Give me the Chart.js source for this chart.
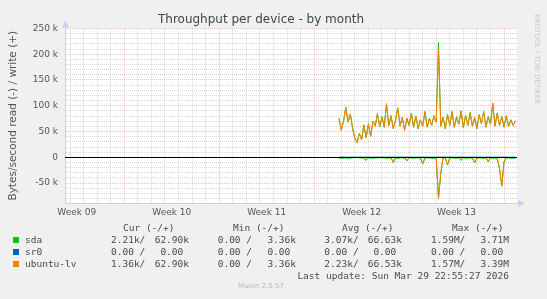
<!DOCTYPE html>
<html>
<head>
<meta charset="utf-8">
<script src="https://cdn.jsdelivr.net/npm/chart.js@4/dist/chart.umd.min.js"></script>
<style>
    html, body { margin: 0; padding: 0; background: #f0f0f0; }
    #wrap { position: relative; width: 547px; height: 299px; overflow: hidden; }
    #graph { position: absolute; left: 0; top: 0; }
    .t { position: absolute; white-space: pre; font: 9.5px 'DejaVu Sans Mono', monospace;
         color: #4a4a4a; height: 12px; line-height: 12px; }
    .sq { position: absolute; width: 6px; height: 6px; }
    #rrdtool { position: absolute; left: 533px; top: 14px; writing-mode: vertical-rl;
               font: 7px 'DejaVu Sans', sans-serif; color: #c8c8c8; }
    #munin { position: absolute; left: 0; width: 522px; top: 282px; text-align: center;
             font: 7px 'DejaVu Sans', sans-serif; color: #b8b8b8; }
</style>
</head>
<body>
<div id="wrap">
    <canvas id="graph" width="547" height="299"></canvas>
    <div id="legend"></div>
    <div id="rrdtool">RRDTOOL / TOBI OETIKER</div>
    <div id="munin">Munin 2.0.57</div>
</div>
<script>
'use strict';

// x is in days from Sun 1 Mar 2026 00:00, samples every 4h (values in k bytes/s)
const firstSample = 15 + 20 / 24;
const sampleStep = 4 / 24;

const ubuntuWrite = [
    75, 52, 70, 96, 68, 84, 56, 36, 28, 46,
    34, 62, 38, 64, 40, 70, 60, 84, 60, 78,
    58, 103, 62, 80, 55, 72, 95, 60, 78, 52,
    75, 62, 85, 58, 80, 55, 72, 60, 88, 58,
    75, 62, 80, 68, 208, 60, 78, 55, 82, 62,
    88, 58, 78, 64, 90, 57, 80, 62, 86, 60,
    76, 55, 82, 65, 88, 58, 78, 64, 104, 60,
    85, 62, 78, 58, 80, 60, 72, 62, 70];
const sdaWrite = [
    76, 53, 70, 97, 69, 84, 57, 37, 29, 46,
    35, 63, 38, 65, 41, 70, 61, 85, 60, 79,
    59, 104, 62, 81, 56, 72, 96, 61, 78, 53,
    76, 62, 86, 59, 80, 56, 73, 60, 89, 59,
    76, 62, 81, 68, 223, 61, 78, 56, 83, 62,
    89, 58, 79, 65, 90, 58, 81, 62, 87, 61,
    77, 56, 83, 65, 89, 59, 79, 64, 105, 61,
    86, 62, 79, 59, 81, 60, 73, 62, 71];
const ubuntuRead = [
    0.3, 0.6, 0.3, 0.3, 0.6, 0.3, 0.3, 0.2, 0.2, 0.3,
    0.3, 0.6, 5, 0.3, 0.3, 0.6, 0.3, 0.3, 0.2, 0.3,
    0.3, 0.6, 0.3, 0.3, 9, 0.3, 0.6, 0.3, 0.3, 0.6,
    6, 0.3, 0.3, 0.6, 0.3, 0.3, 0.6, 12, 0.6, 0.3,
    0.3, 0.6, 0.3, 1, 79, 30, 0.6, 0.3, 14, 0.6,
    0.3, 0.3, 0.6, 0.3, 5, 0.3, 0.6, 0.3, 0.3, 0.6,
    10, 0.6, 0.3, 0.3, 0.6, 0.3, 8, 0.3, 0.6, 0.3,
    1, 20, 55, 8, 0.6, 0.3, 0.6, 0.3, 0.6];
const sdaRead = [
    1.5, 2, 1.5, 1, 2, 1.5, 1, 0.5, 0.5, 1,
    1, 2, 6, 1, 1.5, 2, 1, 1, 0.5, 1,
    1, 2, 1.5, 1, 10, 1.5, 2, 1, 1, 2,
    7, 1, 1.5, 2, 1, 1, 2, 13, 2, 1,
    1, 2, 1.5, 3, 80, 32, 2, 1, 15, 2,
    1, 1.5, 2, 1, 6, 1, 2, 1.5, 1, 2,
    11, 2, 1, 1.5, 2, 1, 9, 1, 2, 1.5,
    3, 22, 56, 9, 2, 1, 2, 1.5, 2];
const sr0Write = [
    0, 0, 0, 0, 0, 0, 0, 0, 0, 0,
    0, 0, 0, 0, 0, 0, 0, 0, 0, 0,
    0, 0, 0, 0, 0, 0, 0, 0, 0, 0,
    0, 0, 0, 0, 0, 0, 0, 0, 0, 0,
    0, 0, 0, 0, 0, 0, 0, 0, 0, 0,
    0, 0, 0, 0, 0, 0, 0, 0, 0, 0,
    0, 0, 0, 0, 0, 0, 0, 0, 0, 0,
    0, 0, 0, 0, 0, 0, 0, 0, 0];
const sr0Read = sr0Write.slice();

const weekLabels = ['Week 09', 'Week 10', 'Week 11', 'Week 12', 'Week 13'];
const weekCentres = [-3.5, 3.5, 10.5, 17.5, 24.5];
const xMin = -4.37, xMax = 28.955;
const yMin = -88600, yMax = 250000;

const legendNames = ['sda', 'sr0', 'ubuntu-lv'];
const legendColours = ['#00cc00', '#0066b3', '#ff8000'];
const legendHeads = ['Cur (-/+)', 'Min (-/+)', 'Avg (-/+)', 'Max (-/+)'];
// [read, write] per device
const legendCur = [['2.21k', '62.90k'], ['0.00 ', '0.00 '], ['1.36k', '62.90k']];
const legendMin = [['0.00 ', '3.36k'], ['0.00 ', '0.00 '], ['0.00 ', '3.36k']];
const legendAvg = [['3.07k', '66.63k'], ['0.00 ', '0.00 '], ['2.23k', '66.53k']];
const legendMax = [['1.59M', '3.71M'], ['0.00 ', '0.00 '], ['1.57M', '3.39M']];
const lastUpdate = 'Last update: Sun Mar 29 22:55:27 2026';


const axisColour = '#c9cff4';
const minorGrid = 'rgba(200,200,200,0.7)';
const majorGrid = 'rgba(240,150,150,0.6)';

const dayTicks = [];
for (let d = Math.ceil(xMin); d <= xMax; d++) {
    dayTicks.push(d);
}
const xTickValues = dayTicks.concat(weekCentres).sort((a, b) => a - b);
const yTickValues = [];
for (let v = -80000; v <= yMax; v += 10000) {
    yTickValues.push(v);
}

function points(vals, sign) {
    return vals.map((v, i) => ({x: firstSample + i * sampleStep, y: sign * v * 1000}));
}

function line(label, colour, data, order) {
    return {label, data, order, borderColor: colour, borderWidth: 1, pointRadius: 0,
            tension: 0, fill: false};
}

const muninFrame = {
    id: 'muninFrame',
    beforeDraw(chart) {
        const {ctx, chartArea: a} = chart;
        ctx.save();
        ctx.fillStyle = '#ffffff';
        ctx.fillRect(a.left, a.top, a.right - a.left, a.bottom - a.top);
        ctx.restore();
    },
    afterDatasetsDraw(chart) {
        const {ctx, chartArea: a, scales: {y}} = chart;
        const zero = Math.round(y.getPixelForValue(0)) + 0.5;
        ctx.save();
        ctx.strokeStyle = '#000000';
        ctx.lineWidth = 1;
        ctx.beginPath();
        ctx.moveTo(a.left, zero);
        ctx.lineTo(a.right, zero);
        ctx.stroke();
        ctx.restore();
    },
    afterDraw(chart) {
        const {ctx, chartArea: a} = chart;
        const x = Math.round(a.left) + 0.5;
        const b = Math.round(a.bottom) + 0.5;
        ctx.save();
        ctx.strokeStyle = axisColour;
        ctx.fillStyle = axisColour;
        ctx.lineWidth = 1;
        ctx.beginPath();
        ctx.moveTo(x, a.top);
        ctx.lineTo(x, a.top - 3);
        ctx.moveTo(a.right, b);
        ctx.lineTo(a.right + 3, b);
        ctx.stroke();
        ctx.beginPath();
        ctx.moveTo(x, a.top - 8);
        ctx.lineTo(x - 3.5, a.top - 1);
        ctx.lineTo(x + 3.5, a.top - 1);
        ctx.closePath();
        ctx.fill();
        ctx.beginPath();
        ctx.moveTo(a.right + 8, b);
        ctx.lineTo(a.right + 1, b - 3.5);
        ctx.lineTo(a.right + 1, b + 3.5);
        ctx.closePath();
        ctx.fill();
        ctx.restore();
    }
};

Chart.defaults.font.family = "'DejaVu Sans', sans-serif";

new Chart(document.getElementById('graph'), {
    type: 'line',
    data: {
        datasets: [
            line('sda', legendColours[0], points(sdaWrite, 1), 2),
            line('sda', legendColours[0], points(sdaRead, -1), 2),
            line('sr0', legendColours[1], points(sr0Write, 1), 1),
            line('sr0', legendColours[1], points(sr0Read, -1), 1),
            line('ubuntu-lv', legendColours[2], points(ubuntuWrite, 1), 0),
            line('ubuntu-lv', legendColours[2], points(ubuntuRead, -1), 0),
        ]
    },
    options: {
        responsive: false,
        animation: false,
        devicePixelRatio: 1,
        layout: {padding: {left: 5, right: 30, top: 0, bottom: 76}},
        plugins: {
            legend: {display: false},
            tooltip: {enabled: false},
            title: {
                display: true,
                text: 'Throughput per device - by month',
                color: '#444',
                font: {size: 12, weight: 'normal'},
                padding: {top: 13, bottom: 1}
            }
        },
        scales: {
            x: {
                type: 'linear',
                min: xMin,
                max: xMax,
                afterBuildTicks: s => { s.ticks = xTickValues.map(value => ({value})); },
                afterFit: s => { s.height = 20; },
                grid: {
                    drawTicks: false,
                    color: c => {
                        if (!c.tick || weekCentres.includes(c.tick.value)) {
                            return 'transparent';
                        }
                        return c.tick.value % 7 === 0 ? majorGrid : minorGrid;
                    }
                },
                border: {color: axisColour, dash: [1, 1]},
                ticks: {
                    autoSkip: false,
                    maxRotation: 0,
                    padding: 4,
                    color: '#555',
                    font: {size: 9},
                    callback: v => {
                        const i = weekCentres.indexOf(v);
                        return i === -1 ? '' : weekLabels[i];
                    }
                }
            },
            y: {
                min: yMin,
                max: yMax,
                afterBuildTicks: s => { s.ticks = yTickValues.map(value => ({value})); },
                afterFit: s => { s.width = 60; },
                grid: {
                    drawTicks: false,
                    color: c => {
                        if (!c.tick) {
                            return 'transparent';
                        }
                        return c.tick.value % 50000 === 0 ? majorGrid : minorGrid;
                    }
                },
                border: {color: axisColour, dash: [1, 1]},
                ticks: {
                    autoSkip: false,
                    padding: 7,
                    color: '#555',
                    font: {size: 9},
                    callback: v => {
                        if (v % 50000 !== 0) {
                            return '';
                        }
                        return v === 0 ? '0' : (v / 1000) + ' k';
                    }
                },
                title: {
                    display: true,
                    text: 'Bytes/second read (-) / write (+)',
                    color: '#555',
                    font: {size: 10.5},
                    padding: {top: 2, bottom: 0}
                }
            }
        }
    },
    plugins: [muninFrame]
});


// legend table below the graph
const legendEl = document.getElementById('legend');
const headY = 228.3;
const rowY = [240, 251.8, 263.7];
const readStartX = [111, 217.7, 324.3, 431];
const writeRightX = [189, 296, 402, 509];
const headStartX = [123, 233, 342, 452];

function put(text, x, centreY, right) {
    const el = document.createElement('div');
    el.className = 't';
    el.textContent = text;
    el.style.top = (centreY - 6) + 'px';
    if (right) {
        el.style.right = (547 - x) + 'px';
    } else {
        el.style.left = x + 'px';
    }
    legendEl.appendChild(el);
}

legendHeads.forEach((h, c) => put(h, headStartX[c], headY));
[legendCur, legendMin, legendAvg, legendMax].forEach((col, c) => {
    col.forEach((pair, r) => {
        put(pair[0] + '/', readStartX[c], rowY[r]);
        put(pair[1], writeRightX[c], rowY[r], true);
    });
});
legendNames.forEach((name, r) => {
    const sq = document.createElement('div');
    sq.className = 'sq';
    sq.style.left = '13px';
    sq.style.top = (rowY[r] - 3) + 'px';
    sq.style.background = legendColours[r];
    legendEl.appendChild(sq);
    put(name, 25, rowY[r]);
});
put(lastUpdate, 509, 275.7, true);
</script>
</body>
</html>
